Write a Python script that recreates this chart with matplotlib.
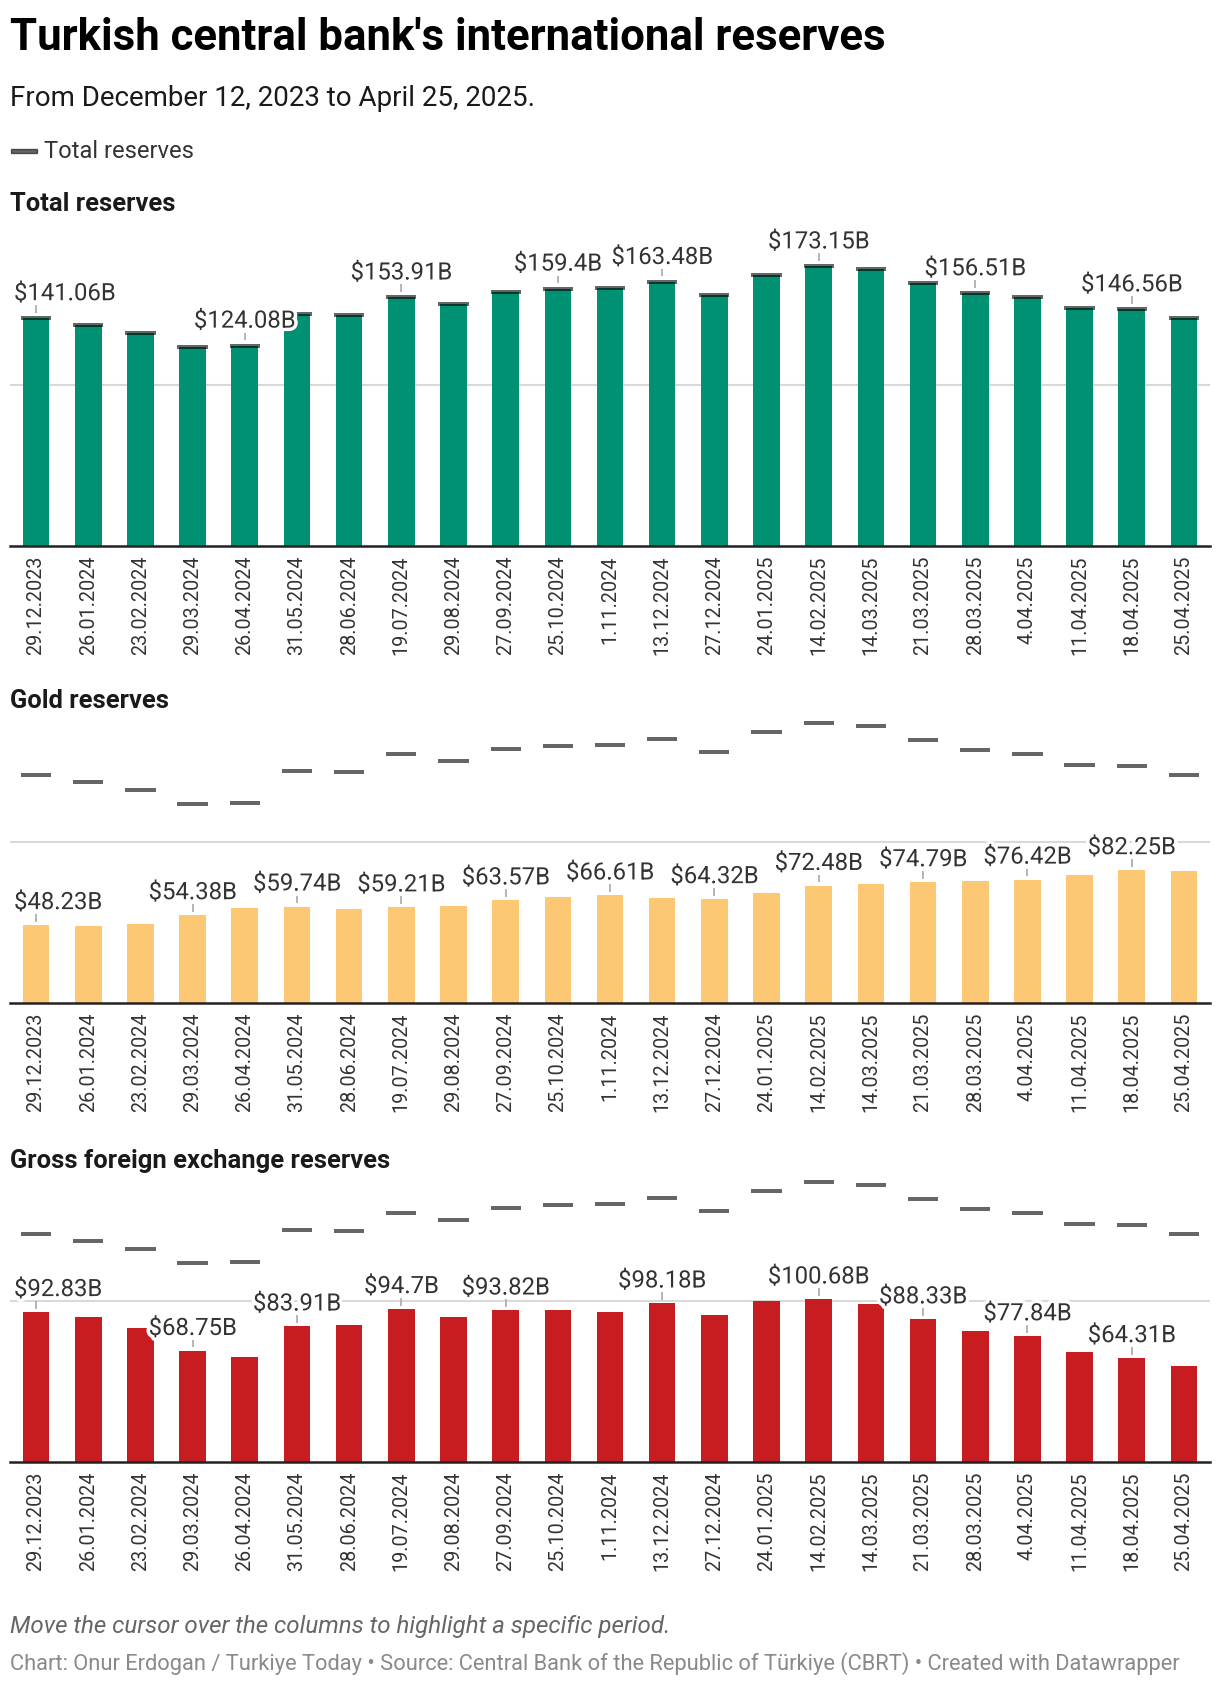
import matplotlib.pyplot as plt
import matplotlib.patheffects as pe
from matplotlib.patches import Rectangle

plt.rcParams['font.family'] = ['Roboto', 'DejaVu Sans']

# data (billion USD)
dates = ["29.12.2023", "26.01.2024", "23.02.2024", "29.03.2024", "26.04.2024",
         "31.05.2024", "28.06.2024", "19.07.2024", "29.08.2024", "27.09.2024",
         "25.10.2024", "1.11.2024", "13.12.2024", "27.12.2024", "24.01.2025",
         "14.02.2025", "14.03.2025", "21.03.2025", "28.03.2025", "4.04.2025",
         "11.04.2025", "18.04.2025", "25.04.2025"]
total = [141.06, 137.1, 131.6, 123.1, 124.08, 143.65, 142.9, 153.91, 149.6, 157.39,
         159.4, 159.6, 163.48, 155.2, 167.6, 173.15, 171.3, 163.12, 156.51, 154.26,
         147.2, 146.56, 140.9]
gold = [48.23, 47.5, 48.8, 54.38, 58.9, 59.74, 57.9, 59.21, 60.0, 63.57,
        65.5, 66.61, 65.3, 64.32, 68.0, 72.48, 73.7, 74.79, 75.5, 76.42,
        79.3, 82.25, 81.7]
fx = [92.83, 89.6, 82.8, 68.75, 65.18, 83.91, 85.0, 94.7, 89.6, 93.82,
      93.9, 93.0, 98.18, 90.9, 99.6, 100.68, 97.6, 88.33, 81.01, 77.84,
      67.9, 64.31, 59.2]

total_labels = [0, 4, 7, 10, 12, 15, 18, 21]
gold_labels = [0, 3, 5, 7, 9, 11, 13, 15, 17, 19, 21]
fx_labels = [0, 3, 5, 7, 9, 12, 15, 17, 19, 21]

W, H = 1220, 1686
PX_PER_B = 1.615
AX_H = 300
SLOT = 1200 / len(dates)  # px per column

fig = plt.figure(figsize=(W / 100, H / 100), dpi=100)


def fy(py):
    return 1 - py / H


def panel(title, values, color, label_idx, baseline, title_y):
    ax = fig.add_axes([10 / W, (H - baseline) / H, 1200 / W, AX_H / H])
    ax.set_xlim(-0.5, len(dates) - 0.5)
    ax.set_ylim(0, AX_H / PX_PER_B)
    x = list(range(len(dates)))

    ax.axhline(100, color="#d9d9d9", lw=1.5, zorder=0)
    ax.bar(x, values, width=0.51, color=color, zorder=2)

    # total reserves markers
    dash = 4 / PX_PER_B
    ax.bar(x, [dash] * len(x), bottom=[t - dash / 2 for t in total], width=0.58,
           color="black", alpha=0.6, zorder=3)

    is_total = values is total
    for i in label_idx:
        top = values[i] + (2 / PX_PER_B if is_total else 0)
        ax.vlines(i, top + 3.5 / PX_PER_B, top + 11 / PX_PER_B, color="#b5b5b5", lw=1.4, zorder=4)
        if i == 0:
            tx, ha = -0.5 + 4 / SLOT, "left"
        else:
            tx, ha = i, "center"
        ax.text(tx, top + 16 / PX_PER_B, f"${values[i]:g}B", ha=ha, va="baseline",
                fontsize=17.2, color="#333333", zorder=5,
                path_effects=[pe.withStroke(linewidth=5, foreground="white")])

    for s in ["top", "right", "left"]:
        ax.spines[s].set_visible(False)
    ax.spines["bottom"].set_color("#222222")
    ax.spines["bottom"].set_linewidth(1.8)
    ax.spines["bottom"].set_zorder(6)
    ax.set_yticks([])
    ax.set_xticks(x)
    ax.set_xticklabels(dates, rotation=90, fontsize=14.2, color="#333333")
    ax.tick_params(axis="x", length=0, pad=7)

    fig.text(10 / W, fy(title_y), title, fontsize=18.4, fontweight="bold",
             color="#1a1a1a", va="center")
    return ax


fig.text(10 / W, fy(38), "Turkish central bank's international reserves",
         fontsize=31.5, fontweight="bold", color="#000000", va="center")
fig.text(10 / W, fy(99), "From December 12, 2023 to April 25, 2025.",
         fontsize=20, color="#1a1a1a", va="center")

fig.patches.append(Rectangle((11 / W, fy(153)), 26 / W, 4 / H, transform=fig.transFigure,
                             color="black", alpha=0.6))
fig.text(44 / W, fy(151), "Total reserves", fontsize=17.1, color="#333333", va="center")

panel("Total reserves", total, "#009172", total_labels, 546, 204)
panel("Gold reserves", gold, "#fdc874", gold_labels, 1003, 701)
panel("Gross foreign exchange reserves", fx, "#c81d20", fx_labels, 1462, 1161)

fig.text(10 / W, fy(1627), "Move the cursor over the columns to highlight a specific period.",
         fontsize=17.4, style="italic", color="#666666", va="center")
fig.text(10 / W, fy(1664),
         "Chart: Onur Erdogan / Turkiye Today \u2022 Source: Central Bank of the Republic of T\u00fcrkiye (CBRT) \u2022 Created with Datawrapper",
         fontsize=15.75, color="#8a8a8a", va="center")

fig.savefig("out.png", dpi=100)
